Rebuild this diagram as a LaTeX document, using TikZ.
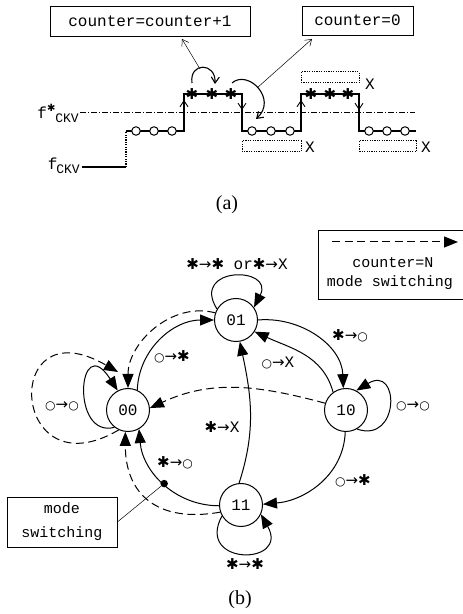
\documentclass[tikz,border=0pt]{standalone}
\usepackage{fontspec}
\setmainfont{Liberation Serif}
\setmonofont{Liberation Mono}
\newfontfamily\symf{DejaVu Sans}
\usetikzlibrary{arrows.meta}
\newcommand\stx{{\symf\fontsize{15}{15}\selectfont ✱}}
\newcommand\arx{{\symf\fontsize{15}{15}\selectfont →}}
\newcommand\cix{{\symf\fontsize{12}{10}\selectfont ○}}
\begin{document}
\begin{tikzpicture}[x=1pt,y=1pt,
  font=\ttfamily\fontsize{16}{18}\selectfont,
  state/.style={circle,draw,line width=1pt,minimum size=43pt,inner sep=0pt},
  tr/.style={line width=1pt,-{Triangle[length=14pt,width=11pt]}},
  dtr/.style={tr,dash pattern=on 8pt off 4.5pt},
  lbl/.style={inner sep=1pt},
  tbox/.style={draw,line width=0.8pt,inner sep=2pt},
  lev/.style={line width=1.3pt},
  dotbox/.style={draw,dash pattern=on 1.2pt off 1.2pt,line width=1pt},
  oc/.style={circle,draw,fill=white,minimum size=8.5pt,inner sep=0pt,line width=1pt},
  barb/.style={-{Straight Barb[length=6pt,width=8pt]}},
  thin/.style={line width=0.5pt,-{Straight Barb[length=6pt,width=8pt]}},
  capt/.style={font=\rmfamily\fontsize{20}{22}\selectfont}]
\useasboundingbox (0,0) rectangle (463,614);
% ---------------- (a) ----------------
\node[tbox,minimum width=200pt,minimum height=30pt] (b1) at (150,593) {counter=counter+1};
\node[tbox,minimum width=111pt,minimum height=29pt] (b2) at (357.5,593.5) {counter=0};
\draw[line width=0.5pt,dash pattern=on 6pt off 2pt on 1pt off 2pt] (80,502) -- (415,502);
\node[anchor=east,inner sep=1pt] (fs) at (80,501) {f\raisebox{7pt}{\symf\fontsize{10}{10}\selectfont ✱}\raisebox{-4pt}{\fontsize{13}{13}\selectfont CKV}};
\node[anchor=east,inner sep=1pt] (fc) at (81,448) {f\kern-1pt\raisebox{-4pt}{\fontsize{13}{13}\selectfont CKV}};
\draw[lev] (82,447) -- (126,447);
\draw[lev,dash pattern=on 1.2pt off 1.2pt] (126,447) -- (126,483);
\draw[lev] (126,483) -- (184,483) -- (184,520) -- (242,520) -- (242,483) -- (301,483)
  -- (301,520) -- (359,520) -- (359,483) -- (416,483);
\draw[line width=0.9pt,barb] (184,500) -- (184,514);
\draw[line width=0.9pt,barb] (301,500) -- (301,514);
\draw[line width=0.9pt,barb] (242,515) -- (242,504);
\draw[line width=0.9pt,barb] (359,515) -- (359,504);
\foreach \x in {136,154,172,252,271,290,369,387,405}
  \node[oc] (c\x) at (\x,483) {};
\foreach \x in {192,212,231,311,330,348}
  \node[inner sep=0pt] (s\x) at (\x,520) {\stx};
\draw[dotbox] (242,462) rectangle (301,473);
\draw[dotbox] (301,531) rectangle (359,542);
\draw[dotbox] (359,462) rectangle (416,473);
\node (x1) at (310,467) {X};
\node (x2) at (370,530) {X};
\node (x3) at (426,467) {X};
\draw[line width=1.1pt,barb] (192,531) .. controls (189,552) and (216,552) .. (215,530);
\coordinate (a1s) at (200,545);
\coordinate (a1e) at (182,575);
\draw[thin] (a1s) -- (a1e);
\draw[line width=1.1pt,barb] (232,531) .. controls (248,545) and (278,515) .. (256,495);
\coordinate (a2s) at (257,526);
\coordinate (a2e) at (312,575);
\draw[thin] (a2s) -- (a2e);
\node[capt] (capa) at (227,409) {(a)};
% ---------------- (b) ----------------
\node[state] (n00) at (128,204) {00};
\node[state] (n01) at (236,294) {01};
\node[state] (n10) at (346,204) {10};
\node[state] (n11) at (241,109) {11};
% legend
\node[draw,line width=0.8pt,minimum width=146pt,minimum height=69pt] (leg) at (391,349.5) {};
\coordinate (la) at (332,372);
\coordinate (lb) at (458,372);
\draw[dtr] (la) -- (lb);
\node[font=\ttfamily\fontsize{15}{17}\selectfont] (lt1) at (393,351) {counter=N};
\node[font=\ttfamily\fontsize{15}{17}\selectfont] (lt2) at (390,331) {mode switching};
% mode switching box
\node[tbox,minimum width=110pt,minimum height=50pt,align=center,font=\ttfamily\fontsize{15}{24}\selectfont] (msb) at (62,92) {mode\\switching};
% edges
\draw[tr] (n00.65) to[out=88,in=180] (n01.west);
\draw[dtr] (n01.161) to[out=165,in=90] (n00.north);
\coordinate (lpend) at (118,242);
\draw[dtr] (n00.245) .. controls (10,120) and (0,310) .. (lpend);
\draw[tr] (n00.232) .. controls (70,175) and (78,285) .. (n00.118);
\draw[dtr] (n10.162) to[out=165,in=25] (n00.5);
\draw[tr] (n01.east) to[out=5,in=92] (n10.97);
\draw[tr] (n10.126) to[out=105,in=-25] (n01.-32);
\draw[tr] (n10.-60) .. controls (400,170) and (400,250) .. (n10.62);
\draw[tr] (n11.95) to[out=72,in=-78] (n01.-80);
\draw[tr] (n10.-92) to[out=-92,in=5] (n11.2);
\draw[tr] (n11.182) to[out=180,in=-85] node[pos=0.5,circle,fill,inner sep=0pt,minimum size=7.5pt] (dot) {} (n00.-60);
\draw[line width=0.5pt] (dot) -- (msb.east);
\draw[dtr] (n11.199) to[out=190,in=-90,looseness=1.3] (n00.-97);
\draw[tr] (n11.210) .. controls (195,48) and (290,48) .. (n11.-25);
\draw[tr] (n01.150) .. controls (190,348) and (275,348) .. (n01.35);
% labels
\node[lbl] (l1) at (237,350) {\stx\arx\stx{} or\stx\arx X};
\node[lbl] (l2) at (172,257) {\cix\arx\stx};
\node[lbl] (l3) at (62,208) {\cix\arx\cix};
\node[lbl] (l4) at (350,278) {\stx\arx\cix};
\node[lbl] (l5) at (278,251) {\cix\arx X};
\node[lbl] (l6) at (413,208) {\cix\arx\cix};
\node[lbl] (l7) at (222,187) {\stx\arx X};
\node[lbl] (l8) at (175,151) {\stx\arx\cix};
\node[lbl] (l9) at (353,133) {\cix\arx\stx};
\node[lbl] (l10) at (245,50) {\stx\arx\stx};
\node[capt] (capb) at (240,14) {(b)};
\end{tikzpicture}
\end{document}
